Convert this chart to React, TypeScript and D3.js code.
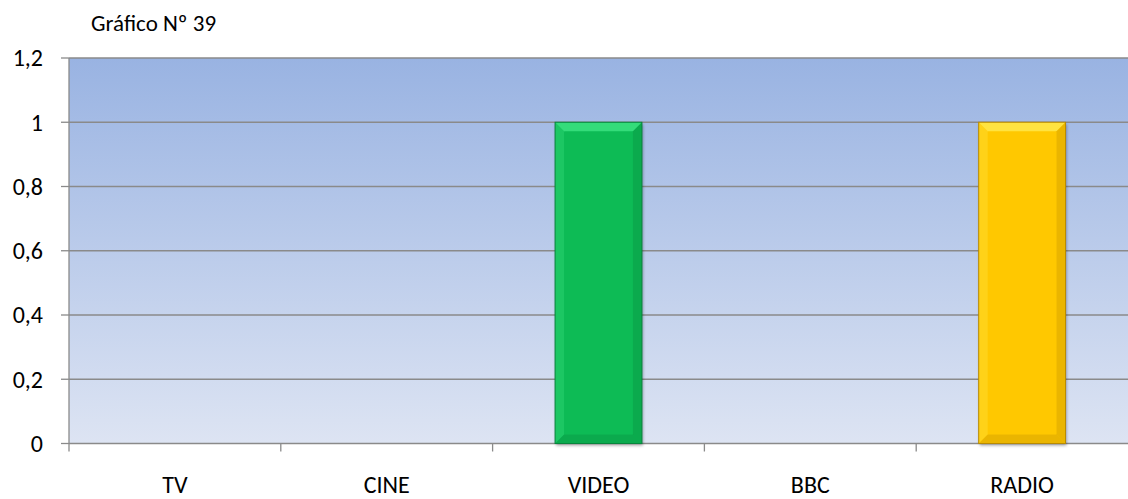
import React from "react";
import * as d3 from "d3";

const categories = ["TV", "CINE", "VIDEO", "BBC", "RADIO"];
const values = [0, 0, 1, 0, 1];
const barColors = ["#4F81BD", "#C0504D", "#0BBB55", "#8064A2", "#FFC800"];
const barDark = ["#3A6090", "#903C3A", "#07853C", "#5E4A78", "#B88A00"];
const barLight = ["#7FA3D3", "#D58886", "#3FE583", "#A78FC2", "#FFEA50"];
const yTicks = [0, 0.2, 0.4, 0.6, 0.8, 1, 1.2];
const title = "Gráfico Nº 39";

const W = 1128;
const H = 499;
const left = 69;
const right = 1128;
const top = 58;
const bottom = 443.5;
const font = "Carlito, 'Open Sans', 'Liberation Sans', sans-serif";

export default function App() {
  const x = d3.scaleBand<string>().domain(categories).range([left, right]).paddingInner(0.59).paddingOuter(0.295);
  const xb = d3.scaleBand<string>().domain(categories).range([left, right]);
  const y = d3.scaleLinear().domain([0, 1.2]).range([bottom, top]);
  const fmt = (v: number) => d3.format("~g")(v).replace(".", ",");
  const bevel = 9;
  return (
    <svg width={W} height={H} style={{ position: "absolute", left: 0, top: 0, background: "#fff" }}>
      <defs>
        <linearGradient id="bg" x1="0" y1="0" x2="0" y2="1">
          <stop offset="0" stopColor="#99B3E2" />
          <stop offset="1" stopColor="#DDE4F3" />
        </linearGradient>
        <filter id="sh" x="-20%" y="-20%" width="140%" height="140%">
          <feDropShadow dx="1" dy="2" stdDeviation="1.5" floodColor="#000" floodOpacity="0.35" />
        </filter>
      </defs>
      <rect x={left} y={top} width={right - left} height={bottom - top} fill="url(#bg)" />
      {yTicks.map((t) => (
        <g key={t}>
          <line x1={left} x2={right} y1={y(t)} y2={y(t)} stroke="#8A8A8A" strokeWidth={1.3} />
          <line x1={left - 8} x2={left} y1={y(t)} y2={y(t)} stroke="#8A8A8A" strokeWidth={1.3} />
          <text x={43} y={y(t)} dy="0.35em" textAnchor="end" fontFamily={font} fontSize={24} fill="#000">
            {fmt(t)}
          </text>
        </g>
      ))}
      <line x1={left} x2={left} y1={top} y2={bottom} stroke="#8A8A8A" strokeWidth={1.3} />
      {categories.map((c) => (
        <line key={"t" + c} x1={xb(c)!} x2={xb(c)!} y1={bottom} y2={bottom + 8} stroke="#8A8A8A" strokeWidth={1.3} />
      ))}
      {categories.map((c, i) => {
        if (values[i] <= 0) return null;
        const bx = x(c)!;
        const bw = x.bandwidth();
        const by = y(values[i]);
        const bh = bottom - by;
        return (
          <g key={"b" + c}>
            <rect x={bx} y={by} width={bw} height={bh} fill={barColors[i]} filter="url(#sh)" />
            <polygon points={`${bx},${by} ${bx + bw},${by} ${bx + bw - bevel},${by + bevel} ${bx + bevel},${by + bevel}`} fill={barLight[i]} opacity={0.8} />
            <polygon points={`${bx},${by} ${bx + bevel},${by + bevel} ${bx + bevel},${by + bh - bevel} ${bx},${by + bh}`} fill={barLight[i]} opacity={0.3} />
            <polygon points={`${bx + bw},${by} ${bx + bw},${by + bh} ${bx + bw - bevel},${by + bh - bevel} ${bx + bw - bevel},${by + bevel}`} fill={barDark[i]} opacity={0.3} />
            <polygon points={`${bx},${by + bh} ${bx + bw},${by + bh} ${bx + bw - bevel},${by + bh - bevel} ${bx + bevel},${by + bh - bevel}`} fill={barDark[i]} opacity={0.3} />
            <rect x={bx} y={by} width={bw} height={bh} fill="none" stroke={barDark[i]} strokeWidth={1} />
          </g>
        );
      })}
      {categories.map((c) => (
        <text key={"l" + c} x={xb(c)! + xb.bandwidth() / 2} y={493} textAnchor="middle" fontFamily={font} fontSize={24} fill="#000">
          {c}
        </text>
      ))}
      <text x={91} y={31} fontFamily={font} fontSize={23} fill="#000">
        {title}
      </text>
    </svg>
  );
}
